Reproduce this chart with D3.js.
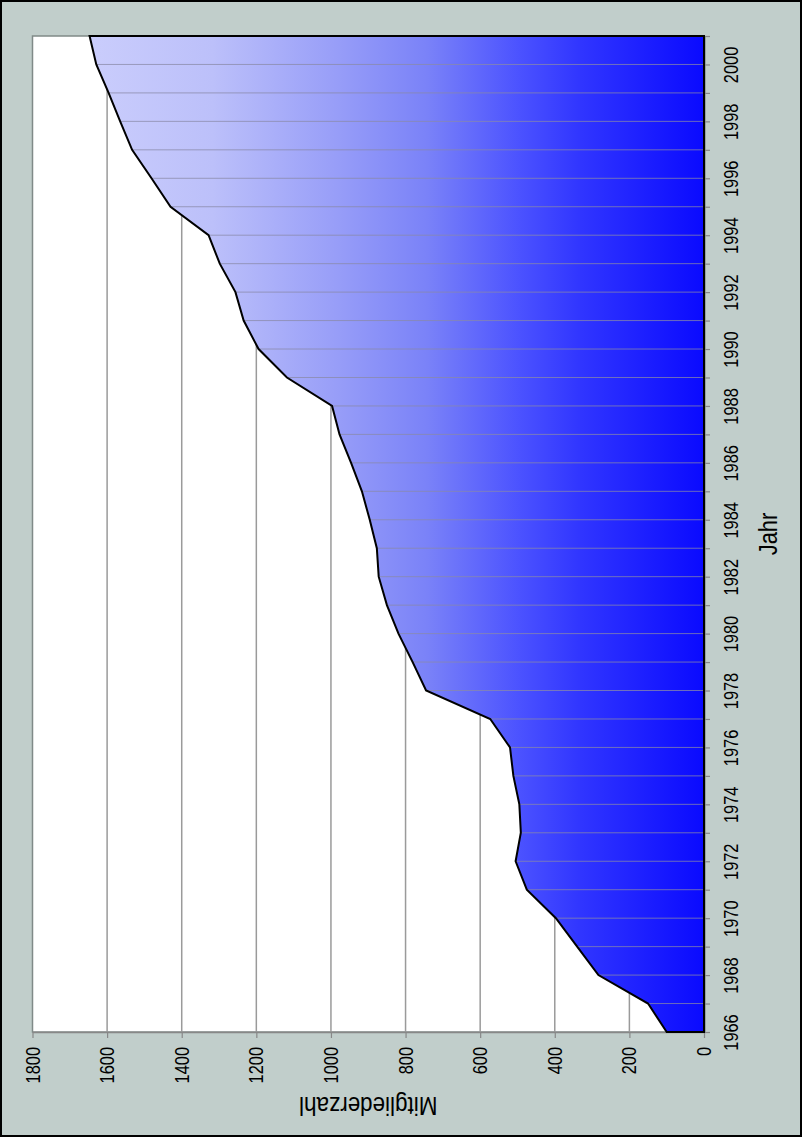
<!DOCTYPE html>
<html>
<head>
<meta charset="utf-8">
<script src="https://cdn.jsdelivr.net/npm/d3@7/dist/d3.min.js"></script>
<style>
  html, body { margin: 0; padding: 0; background: #fff; }
  svg { display: block; }
  text { font-family: "Liberation Sans", Arial, sans-serif; fill: #000; }
</style>
</head>
<body>
<svg id="chart" width="802" height="1137"></svg>
<script>
// ---- data ----
const years = [1966,1967,1968,1969,1970,1971,1972,1973,1974,1975,1976,1977,1978,1979,1980,1981,1982,1983,1984,1985,1986,1987,1988,1989,1990,1991,1992,1993,1994,1995,1996,1997,1998,1999,2000,2001];
const members = [100,150,283,340,397,475,505,491,495,511,520,573,745,781,819,850,872,877,896,917,946,977,997,1118,1194,1234,1256,1298,1328,1430,1481,1533,1565,1596,1629,1647];
const valueTicks = [0,200,400,600,800,1000,1200,1400,1600,1800];
const yearLabels = [1966,1968,1970,1972,1974,1976,1978,1980,1982,1984,1986,1988,1990,1992,1994,1996,1998,2000];
const valueTitle = "Mitgliederzahl";
const yearTitle = "Jahr";

const data = years.map((yr, i) => ({ year: yr, v: members[i] }));

const W = 802, H = 1137;
const plot = { left: 32.5, right: 704, top: 36, bottom: 1032 };

const svg = d3.select("#chart");

// background and outer border
svg.append("rect").attr("x", 0).attr("y", 0).attr("width", W).attr("height", H).attr("fill", "#c1cecb");
svg.append("rect").attr("x", 1).attr("y", 1).attr("width", W - 2).attr("height", H - 2)
  .attr("fill", "none").attr("stroke", "#000").attr("stroke-width", 2);

// scales (chart is rotated: years run bottom->top, values run right->left)
const x = d3.scaleLinear().domain([0, 1800]).range([plot.right, plot.left]);
const y = d3.scaleLinear().domain([1966, 2001]).range([plot.bottom, plot.top]);

// gradient
const defs = svg.append("defs");
const grad = defs.append("linearGradient").attr("id", "grad")
  .attr("gradientUnits", "userSpaceOnUse")
  .attr("x1", x(d3.max(members))).attr("x2", x(0)).attr("y1", 0).attr("y2", 0);
[[0, "#cacdfc"], [0.2, "#bcc0fa"], [0.4, "#989ef8"], [0.55, "#7a82f8"], [0.7, "#4b52ff"], [0.8, "#3035ff"], [1, "#0a0aff"]]
  .forEach(([o, c]) => grad.append("stop").attr("offset", o).attr("stop-color", c));

// plot area
svg.append("rect").attr("x", plot.left).attr("y", plot.top)
  .attr("width", plot.right - plot.left).attr("height", plot.bottom - plot.top)
  .attr("fill", "#fff").attr("stroke", "#808a88").attr("stroke-width", 1.5);

// value gridlines
svg.append("g").selectAll("line").data(valueTicks.filter(v => v > 0 && v < 1800)).join("line")
  .attr("x1", d => x(d)).attr("x2", d => x(d))
  .attr("y1", plot.top).attr("y2", plot.bottom)
  .attr("stroke", "#9a9a9a").attr("stroke-width", 1.5);

// area fill
const area = d3.area().y(d => y(d.year)).x0(x(0)).x1(d => x(d.v));
svg.append("path").datum(data).attr("d", area).attr("fill", "url(#grad)");

// drop lines
svg.append("g").selectAll("line").data(data.slice(1, -1)).join("line")
  .attr("x1", d => x(d.v)).attr("x2", x(0))
  .attr("y1", d => y(d.year)).attr("y2", d => y(d.year))
  .attr("stroke", "#8a8aa8").attr("stroke-width", 1).attr("opacity", 0.75);

// value axis (bottom)
const xAxis = svg.append("g").attr("transform", `translate(0,${plot.bottom})`)
  .call(d3.axisBottom(x).tickValues(valueTicks).tickSize(6).tickSizeOuter(0).tickFormat(d3.format("d")));
xAxis.select(".domain").attr("stroke", "#888").attr("stroke-width", 1.5);
xAxis.selectAll(".tick line").attr("stroke", "#888").attr("stroke-width", 1.2);
xAxis.selectAll(".tick text")
  .attr("x", 0).attr("y", 0).attr("dy", 0)
  .attr("transform", "translate(6.5,15) rotate(-90) scale(0.82,1)")
  .attr("text-anchor", "end")
  .attr("font-size", 20)
  .attr("font-family", "'Liberation Sans', Arial, sans-serif")
  .attr("fill", "#000");

// year axis (right)
const yAxis = svg.append("g").attr("transform", `translate(${plot.right},0)`)
  .call(d3.axisRight(y).tickValues(years).tickSize(6).tickSizeOuter(0)
    .tickFormat(d => yearLabels.includes(d) ? String(d) : ""));
yAxis.select(".domain").attr("stroke", "#222").attr("stroke-width", 1.5);
yAxis.selectAll(".tick line").attr("stroke", "#888").attr("stroke-width", 1.2);
yAxis.selectAll(".tick text")
  .attr("x", 0).attr("y", 0).attr("dy", 0)
  .attr("transform", "translate(34,0) rotate(-90) scale(0.82,1)")
  .attr("text-anchor", "middle")
  .attr("font-size", 20)
  .attr("font-family", "'Liberation Sans', Arial, sans-serif")
  .attr("fill", "#000");

// area outline
svg.append("path").datum(data).attr("d", area)
  .attr("fill", "none").attr("stroke", "#000").attr("stroke-width", 2)
  .attr("stroke-linejoin", "miter");

// axis titles
svg.append("text")
  .attr("transform", `translate(${(plot.left + plot.right) / 2},1097) rotate(180) scale(0.88,1)`)
  .attr("text-anchor", "middle").attr("font-size", 25.5)
  .text(valueTitle);

svg.append("text")
  .attr("transform", `translate(777,${(plot.top + plot.bottom) / 2}) rotate(-90) scale(0.86,1)`)
  .attr("text-anchor", "middle").attr("font-size", 25.5)
  .text(yearTitle);
</script>
</body>
</html>
